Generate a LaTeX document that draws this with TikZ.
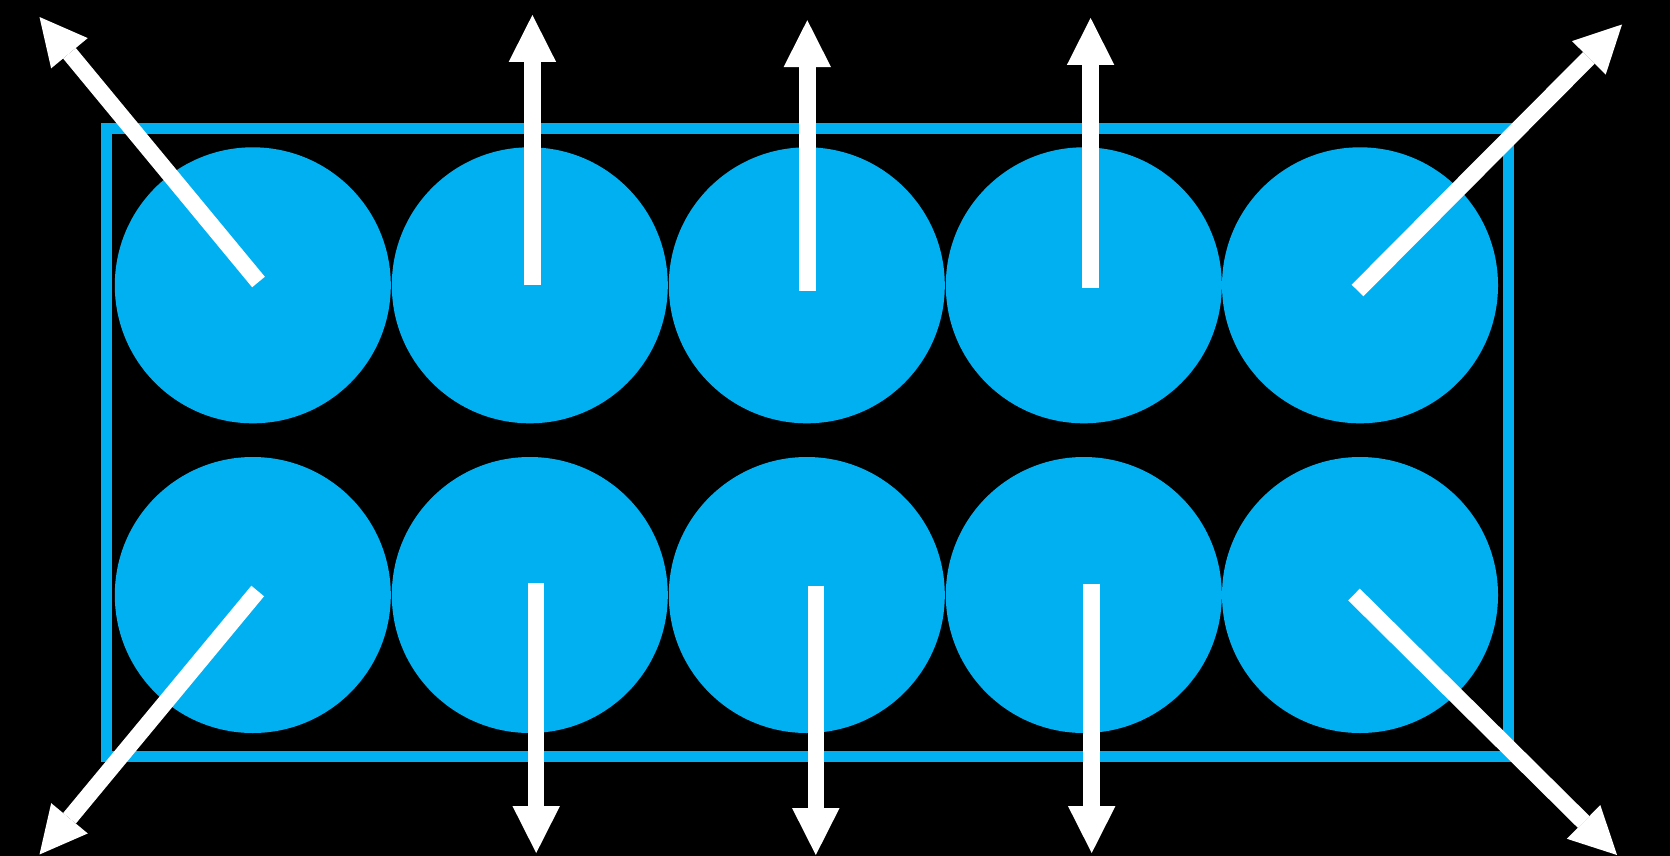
\documentclass[tikz,border=0pt]{standalone}
\usetikzlibrary{arrows.meta}
\definecolor{cellblue}{RGB}{0,176,240}
\tikzset{
  cell/.style={circle, fill=cellblue, draw=none, inner sep=0pt, minimum size=138pt},
  frame/.style={draw=cellblue, line width=5.3pt},
  arr/.style={draw=white, line width=8.25pt,
    -{Triangle[length=23.5pt, width=23.75pt, line width=0pt]}}
}
\begin{document}
\begin{tikzpicture}[x=0.5pt, y=-0.5pt]
  % canvas
  \fill[black] (0,0) rectangle (1670,856);
  \useasboundingbox (0,0) rectangle (1670,856);

  % enclosing frame
  \draw[frame] (106.5,128.5) rectangle (1508.5,756.7);

  % two rows of cells
  \foreach \i/\x in {1/252.8, 2/529.8, 3/806.8, 4/1083.8, 5/1360} {
    \node[cell] (t\i) at (\x,285.3) {};
    \node[cell] (b\i) at (\x,595) {};
  }

  % arrow endpoints
  \coordinate (s1) at (258.5,282);   \coordinate (e1) at (39.5,17);
  \coordinate (s2) at (532.4,285.4); \coordinate (e2) at (532.4,15);
  \coordinate (s3) at (807.3,290.8); \coordinate (e3) at (807.3,20.2);
  \coordinate (s4) at (1090.6,287.6);\coordinate (e4) at (1090.6,18);
  \coordinate (s5) at (1357.5,290.5);\coordinate (e5) at (1622,24.5);
  \coordinate (s6) at (257.7,591);   \coordinate (e6) at (39.5,854.5);
  \coordinate (s7) at (536.2,583.4); \coordinate (e7) at (536.2,853);
  \coordinate (s8) at (815.8,585.7); \coordinate (e8) at (815.8,855);
  \coordinate (s9) at (1091.7,583.6);\coordinate (e9) at (1091.7,853);
  \coordinate (s10) at (1354,594.5); \coordinate (e10) at (1617,855);

  % outward arrows
  \foreach \k in {1,...,10} {
    \draw[arr] (s\k) -- (e\k);
  }
\end{tikzpicture}
\end{document}
